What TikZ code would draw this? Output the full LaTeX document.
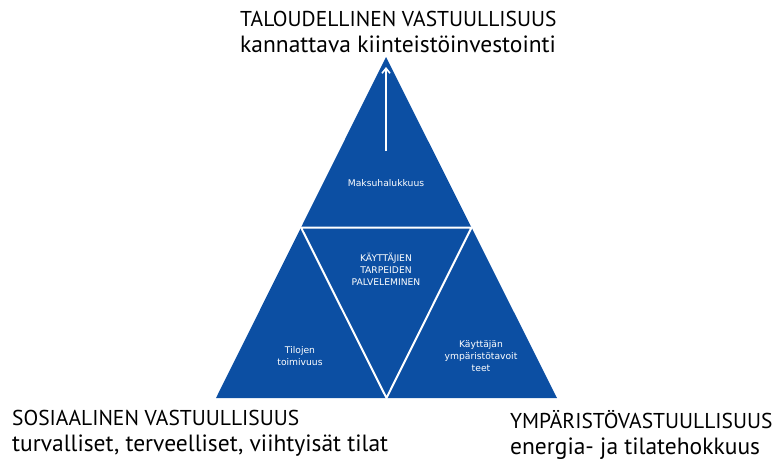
\documentclass[tikz,border=0pt]{standalone}
\usepackage{fontspec}
\setmainfont{DejaVu Sans}
\newfontfamily\headfont{PT Sans}
\usepackage{xcolor}
\usetikzlibrary{arrows.meta,calc}
\definecolor{pyrblue}{HTML}{0C4FA3}
\newcommand{\subline}{\fontsize{23.5}{26}\selectfont}

\begin{document}
\begin{tikzpicture}[x=1pt,y=-1pt,
    head/.style={anchor=north west,align=left,inner sep=0pt,font=\headfont\fontsize{21.5}{26}\selectfont},
    lbl/.style={text=white,align=center,inner sep=0pt,font=\fontsize{9.2}{12}\selectfont},
    sep/.style={draw=white,line width=2pt},
    arr/.style={-{Straight Barb[length=5pt,width=8pt]},white,line width=1.6pt}
  ]
    \useasboundingbox (0,0) rectangle (772,472);
    \coordinate (apex) at (386,57);
    \coordinate (bl) at (216,398);
    \coordinate (br) at (557,398);
    \coordinate (ml) at ($(apex)!0.5!(bl)$);
    \coordinate (mr) at ($(apex)!0.5!(br)$);
    \coordinate (mb) at ($(bl)!0.5!(br)$);
    \fill[pyrblue] (apex) -- (bl) -- (br) -- cycle;
    \draw[sep] (ml) -- (mr) -- (mb) -- cycle;
    \coordinate (arrfrom) at (386,151);
    \coordinate (arrto) at (386,67);
    \draw[arr] (arrfrom) -- (arrto);
    % labels inside
    \node[lbl] (pay) at (386,183) {Maksuhalukkuus};
    \node[lbl] (needs) at (386,269) {KÄYTTÄJIEN\\TARPEIDEN\\PALVELEMINEN};
    \node[lbl] (func) at (300,356) {Tilojen\\toimivuus};
    \node[lbl] (envgoal) at (481,356) {Käyttäjän\\ympäristötavoit\\teet};
    % headings
    \node[head] (econ) at (240,11) {TALOUDELLINEN VASTUULLISUUS\\\subline kannattava kiinteistöinvestointi};
    \node[head] (social) at (12,410) {SOSIAALINEN VASTUULLISUUS\\\subline turvalliset, terveelliset, viihtyisät tilat};
    \node[head] (ecol) at (510,410) {YMPÄRISTÖVASTUULLISUUS\\\subline energia- ja tilatehokkuus};
\end{tikzpicture}
\end{document}
